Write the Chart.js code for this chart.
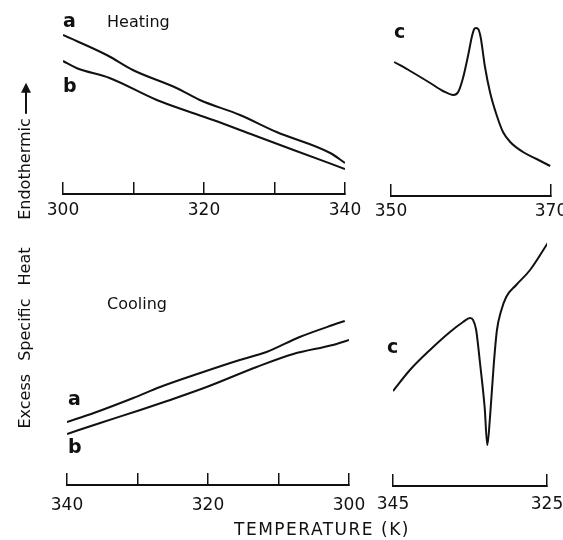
<!DOCTYPE html>
<html>
<head>
<meta charset="utf-8">
<script src="https://cdn.jsdelivr.net/npm/chart.js@4/dist/chart.umd.min.js"></script>
<style>
    body { margin: 0; background: #fff; font-family: "DejaVu Sans", sans-serif; color: #111; }
    #wrap { position: relative; width: 563px; height: 540px; overflow: hidden; }
    canvas { position: absolute; left: 0; top: 0; }
    .lbl { position: absolute; font-size: 16px; line-height: 1; white-space: nowrap; }
    .tag { position: absolute; font-size: 19px; font-weight: bold; line-height: 1; }
    .vert { position: absolute; font-size: 16px; line-height: 1; white-space: nowrap;
            transform: translate(-50%, -50%) rotate(-90deg); }
    .arr { display: inline-block; position: relative; width: 22px; height: 2px; background: #111;
           vertical-align: middle; margin-left: 4px; margin-right: 8px; }
    .arr::after { content: ''; position: absolute; right: -9px; top: -4px;
                  border-left: 10px solid #111; border-top: 5px solid transparent; border-bottom: 5px solid transparent; }
</style>
</head>
<body>
<div id="wrap">
    <canvas id="heatChart" width="563" height="540"></canvas>
    <canvas id="heatPeakChart" width="563" height="540"></canvas>
    <canvas id="coolChart" width="563" height="540"></canvas>
    <canvas id="coolPeakChart" width="563" height="540"></canvas>

    <div class="tag" style="left:63px; top:11px;">a</div>
    <div class="tag" style="left:63px; top:76px;">b</div>
    <div class="lbl" style="left:107px; top:14px;">Heating</div>
    <div class="tag" style="left:394px; top:22px;">c</div>

    <div class="lbl" style="left:107px; top:296px;">Cooling</div>
    <div class="tag" style="left:68px; top:389px;">a</div>
    <div class="tag" style="left:68px; top:437px;">b</div>
    <div class="tag" style="left:387px; top:337px;">c</div>

    <div class="vert" style="left:25px; top:338px; word-spacing:8px;">Excess Specific Heat</div>
    <div class="vert" style="left:25px; top:152px;">Endothermic<span class="arr"></span></div>
    <div class="lbl" style="left:234px; top:521px; font-size:17px; letter-spacing:1.5px;">TEMPERATURE (K)</div>
</div>

<script>
// heating, curves a and b (temperature K, excess Cp arb. units)
const heatA_T = [300, 306.2, 309.9, 316.1, 319.4, 325.1, 330.3, 337.9, 340];
const heatA_Cp = [15.9, 13.9, 12.4, 10.6, 9.4, 7.9, 6.2, 4.1, 3.1];
const heatB_T = [300, 301.9, 306.6, 313.3, 318.0, 321.3, 327.0, 332.7, 340];
const heatB_Cp = [13.3, 12.6, 11.6, 9.4, 8.2, 7.4, 5.9, 4.4, 2.5];

// heating, curve c around the transition
const heatC_T = [350.4, 352.4, 354.9, 356.5, 357.8, 358.4, 359.0, 359.7, 360.1, 360.4, 360.6, 360.9,
                 361.2, 361.75, 362.4, 363.2, 364.0, 364.9, 366.5, 368.2, 369.9];
const heatC_Cp = [13.4, 12.5, 11.3, 10.5, 10.1, 10.4, 11.8, 14.3, 15.9, 16.7, 16.8, 16.7,
                  15.9, 12.9, 10.3, 8.1, 6.4, 5.4, 4.4, 3.7, 3.0];

// cooling, curves a and b
const coolA_T = [300.6, 302.3, 307.0, 311.7, 315.5, 321.1, 326.8, 330.6, 336.2, 340];
const coolA_Cp = [16.4, 16.0, 14.8, 13.3, 12.5, 11.2, 9.8, 8.7, 7.2, 6.3];
const coolB_T = [300, 302.3, 307.9, 313.1, 320.2, 325.8, 329.6, 335.3, 340];
const coolB_Cp = [14.5, 14.0, 13.1, 11.8, 9.8, 8.4, 7.5, 6.2, 5.1];

// cooling, curve c around the transition
const coolC_T = [324.9, 327.2, 329.0, 330.3, 331.0, 331.5, 331.9, 332.4, 332.75, 333.1, 333.7,
                 334.2, 334.6, 335.0, 335.9, 337.6, 340.2, 342.8, 345];
const coolC_Cp = [24.3, 21.6, 20.1, 18.9, 17.4, 15.6, 12.3, 6.9, 4.1, 7.9, 12.3,
                  15.6, 16.6, 16.8, 16.4, 15.4, 13.6, 11.6, 9.5];

// axis ticks
const heatTicks = [300, 310, 320, 330, 340];
const heatTickLabels = [300, 320, 340];
const heatPeakTicks = [350, 370];
const coolTicks = [300, 310, 320, 330, 340];
const coolTickLabels = [300, 320, 340];
const coolPeakTicks = [325, 345];

function points(temps, vals) {
    return temps.map((t, i) => ({ x: t, y: vals[i] }));
}

function makePanel(id, series, xMin, xMax, reverse, ticks, labels, pad, yMax, labelPad) {
    const ctx = document.getElementById(id).getContext('2d');
    return new Chart(ctx, {
        type: 'line',
        data: {
            datasets: series.map(s => ({
                data: s,
                borderColor: '#111',
                borderWidth: 2,
                pointRadius: 0,
                fill: false,
                cubicInterpolationMode: 'monotone'
            }))
        },
        options: {
            responsive: false,
            animation: false,
            devicePixelRatio: 1,
            layout: { padding: pad },
            plugins: { legend: { display: false }, tooltip: { enabled: false } },
            scales: {
                x: {
                    type: 'linear',
                    min: xMin,
                    max: xMax,
                    reverse: reverse,
                    // fixed axis box, no extra room for end labels
                    afterFit: s => { s.height = 30; s.paddingLeft = 0; s.paddingRight = 0; },
                    afterBuildTicks: s => { s.ticks = ticks.map(v => ({ value: v })); },
                    border: { display: true, color: '#111', width: 2 },
                    grid: { drawOnChartArea: false, drawTicks: true, tickLength: -12, color: '#111', lineWidth: 1.5 },
                    ticks: {
                        autoSkip: false,
                        maxRotation: 0,
                        padding: labelPad,
                        color: '#111',
                        font: { family: 'DejaVu Sans', size: 17 },
                        callback: v => labels.includes(v) ? String(v) : ''
                    }
                },
                y: { display: false, min: 0, max: yMax }
            }
        }
    });
}

window.onload = () => {
    makePanel('heatChart', [points(heatA_T, heatA_Cp), points(heatB_T, heatB_Cp)],
        300, 340, false, heatTicks, heatTickLabels,
        { left: 63, right: 218, top: 20, bottom: 316 }, 17.4, 18);
    makePanel('heatPeakChart', [points(heatC_T, heatC_Cp)],
        350, 370, false, heatPeakTicks, heatPeakTicks,
        { left: 391, right: 12, top: 20, bottom: 314 }, 17.6, 17);
    makePanel('coolChart', [points(coolA_T, coolA_Cp), points(coolB_T, coolB_Cp)],
        300, 340, true, coolTicks, coolTickLabels,
        { left: 67, right: 214, top: 230, bottom: 25 }, 25.5, 22);
    makePanel('coolPeakChart', [points(coolC_T, coolC_Cp)],
        325, 345, true, coolPeakTicks, coolPeakTicks,
        { left: 393, right: 16, top: 230, bottom: 24 }, 25.6, 20);
};
</script>
</body>
</html>
